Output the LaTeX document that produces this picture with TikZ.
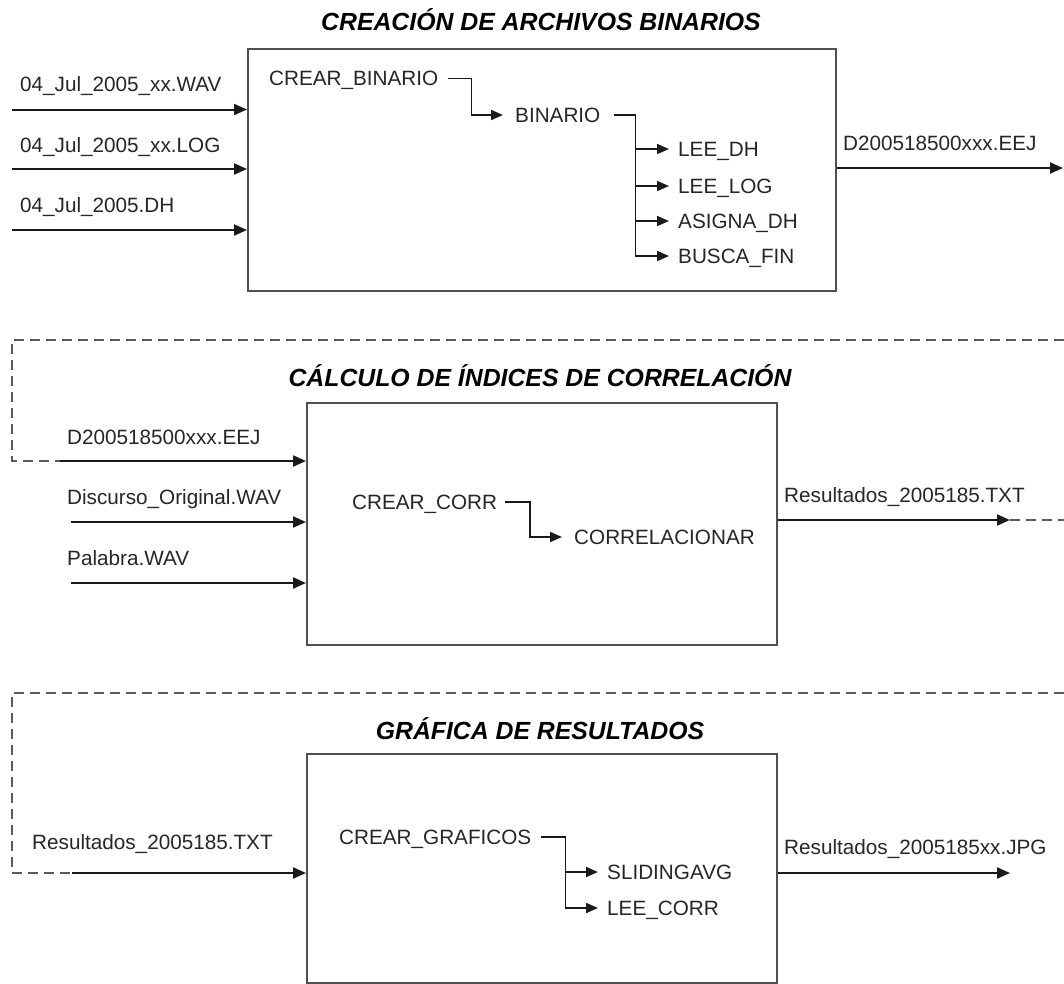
\documentclass[tikz,border=0pt]{standalone}
\usepackage{fontspec}
\setmainfont{Liberation Sans}
\usetikzlibrary{arrows.meta}
\definecolor{txt}{HTML}{262626}
\definecolor{boxc}{HTML}{505050}
\definecolor{dashc}{HTML}{5A5A5A}
\definecolor{linec}{HTML}{1A1A1A}
\begin{document}
\begin{tikzpicture}[x=1pt,y=-1pt,
  lbl/.style={anchor=west, inner sep=0pt, text height=14.8pt, text depth=0pt, text=txt, font=\fontsize{20.7}{24}\selectfont},
  ttl/.style={anchor=center, inner sep=0pt, text height=17.7pt, text depth=0pt, text=black, font=\fontsize{24.8}{29}\selectfont\bfseries\itshape},
  blk/.style={draw=boxc, line width=2.2pt, inner sep=0pt, anchor=north west},
  arr/.style={draw=linec, line width=2pt, -{Triangle[length=13pt,width=11pt]}},
  sarr/.style={draw=linec, line width=1.8pt, -{Triangle[length=12pt,width=10pt]}},
  dsh/.style={draw=dashc, line width=1.9pt, dash pattern=on 10pt off 6pt},
]
\useasboundingbox (0,0) rectangle (1064,983);
\fill[white] (0,0) rectangle (1064,983);

% ---------- Section 1 ----------
\node[ttl] (t1) at (541,22) {CREACIÓN DE ARCHIVOS BINARIOS};
\node[blk, minimum width=588pt, minimum height=242pt] (b1) at (247,48) {};

\node[lbl] (l11) at (20,84) {04\_Jul\_2005\_xx.WAV};
\node[lbl] (l12) at (20,145) {04\_Jul\_2005\_xx.LOG};
\node[lbl] (l13) at (20,205) {04\_Jul\_2005.DH};
\coordinate (i11) at (12,109.5);
\coordinate (i12) at (12,169);
\coordinate (i13) at (12,230);
\draw[arr] (i11) -- (i11 -| b1.west);
\draw[arr] (i12) -- (i12 -| b1.west);
\draw[arr] (i13) -- (i13 -| b1.west);

\node[lbl] (crb) at (269,78.5) {CREAR\_BINARIO};
\node[lbl] (bin) at (515,115) {BINARIO};
\node[lbl] (leedh) at (678,149) {LEE\_DH};
\node[lbl] (leelog) at (678,186) {LEE\_LOG};
\node[lbl] (asigna) at (678,221) {ASIGNA\_DH};
\node[lbl] (busca) at (678,256) {BUSCA\_FIN};

\draw[sarr] ([xshift=10pt]crb.east) -- ++(23,0) |- ([xshift=-12pt]bin.west);
\draw[sarr] ([xshift=13pt]bin.east) -- ++(22,0) coordinate (bk) |- ([xshift=-9pt]busca.west);
\draw[sarr] (bk |- leedh.west) -- ([xshift=-9pt]leedh.west);
\draw[sarr] (bk |- leelog.west) -- ([xshift=-9pt]leelog.west);
\draw[sarr] (bk |- asigna.west) -- ([xshift=-9pt]asigna.west);

\node[lbl] (lo1) at (843,143) {D200518500xxx.EEJ};
\coordinate (o1) at (1063,168);
\draw[arr] (b1.east |- o1) -- (o1);

% ---------- Section 2 ----------
\node[ttl] (t2) at (540,378) {CÁLCULO DE ÍNDICES DE CORRELACIÓN};
\node[blk, minimum width=470pt, minimum height=242pt] (b2) at (306,402) {};

\coordinate (d2a) at (1064,340);
\coordinate (d2c) at (12,461);
\coordinate (d2b) at (60,461);
\draw[dsh] (d2a) -| (d2c) -- (d2b);
\draw[arr] (d2b) -- (d2b -| b2.west);

\node[lbl] (l21) at (67,437) {D200518500xxx.EEJ};
\node[lbl] (l22) at (67,497) {Discurso\_Original.WAV};
\node[lbl] (l23) at (67,558) {Palabra.WAV};
\coordinate (i22) at (71,522);
\coordinate (i23) at (71,583);
\draw[arr] (i22) -- (i22 -| b2.west);
\draw[arr] (i23) -- (i23 -| b2.west);

\node[lbl] (crc) at (352,502) {CREAR\_CORR};
\node[lbl] (corr) at (574,537) {CORRELACIONAR};
\draw[sarr] ([xshift=8pt]crc.east) -- ++(25,0) |- ([xshift=-12pt]corr.west);

\node[lbl] (lo2) at (784,495) {Resultados\_2005185.TXT};
\coordinate (o2) at (1010,520);
\coordinate (o2e) at (1064,520);
\draw[arr] (b2.east |- o2) -- (o2);
\draw[dsh] (o2) -- (o2e);

% ---------- Section 3 ----------
\node[ttl] (t3) at (540,731) {GRÁFICA DE RESULTADOS};
\node[blk, minimum width=470pt, minimum height=229pt] (b3) at (306,753) {};

\coordinate (d3a) at (1064,693);
\coordinate (d3c) at (12,873);
\coordinate (d3b) at (72,873);
\draw[dsh] (d3a) -| (d3c) -- (d3b);
\draw[arr] (d3b) -- (d3b -| b3.west);

\node[lbl] (l31) at (32,842) {Resultados\_2005185.TXT};

\node[lbl] (crg) at (339,837) {CREAR\_GRAFICOS};
\node[lbl] (slid) at (607,872) {SLIDINGAVG};
\node[lbl] (leec) at (607,908) {LEE\_CORR};
\draw[sarr] ([xshift=10pt]crg.east) -- ++(24,0) coordinate (gk) |- ([xshift=-9pt]leec.west);
\draw[sarr] (gk |- slid.west) -- ([xshift=-9pt]slid.west);

\node[lbl] (lo3) at (784,847) {Resultados\_2005185xx.JPG};
\coordinate (o3) at (1010,873);
\draw[arr] (b3.east |- o3) -- (o3);
\end{tikzpicture}
\end{document}
